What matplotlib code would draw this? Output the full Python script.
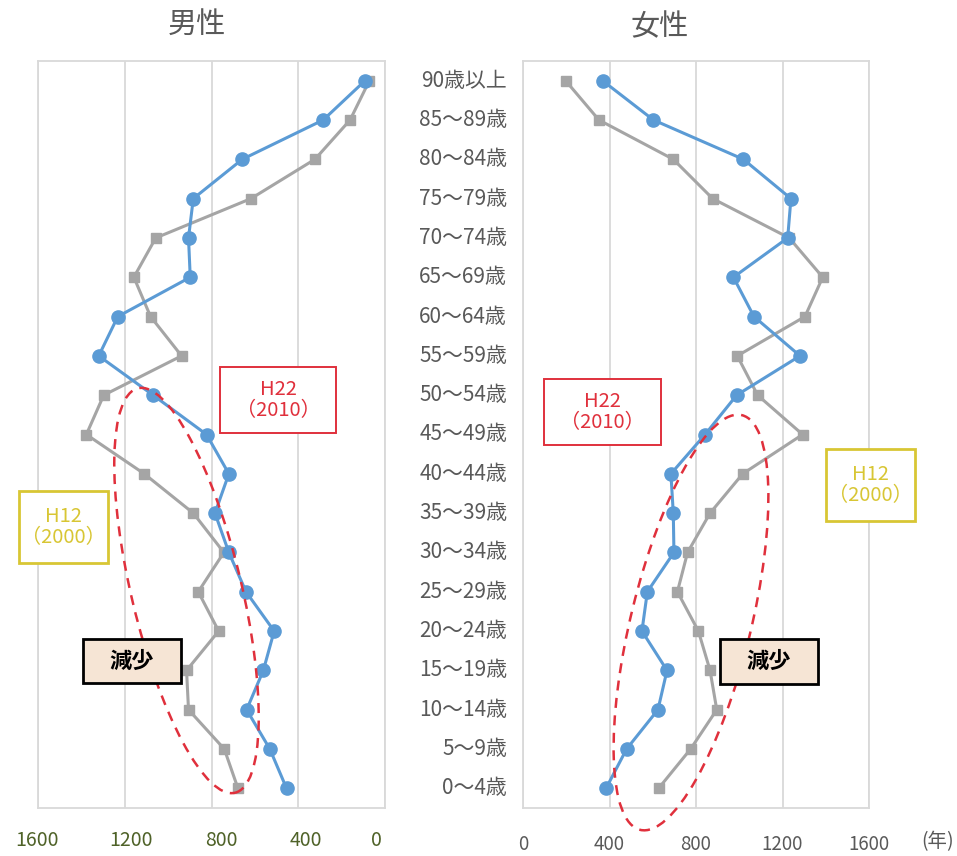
import matplotlib
matplotlib.use("Agg")
import matplotlib.pyplot as plt
import matplotlib.transforms as mtransforms
from matplotlib.patches import Ellipse, Rectangle

plt.rcParams['font.family'] = ['Noto Sans CJK JP', 'DejaVu Sans']

# Age groups, youngest first
age_labels = ["0～4歳", "5～9歳", "10～14歳", "15～19歳", "20～24歳", "25～29歳",
              "30～34歳", "35～39歳", "40～44歳", "45～49歳", "50～54歳", "55～59歳",
              "60～64歳", "65～69歳", "70～74歳", "75～79歳", "80～84歳", "85～89歳",
              "90歳以上"]

male_2010 = [454, 531, 638, 561, 511, 641, 720, 784, 720, 823, 1069, 1320,
             1232, 898, 906, 884, 658, 285, 92]
male_2000 = [678, 741, 906, 915, 767, 861, 743, 884, 1110, 1377, 1297, 938,
             1081, 1158, 1057, 618, 323, 161, 72]
female_2010 = [384, 479, 624, 666, 550, 575, 698, 695, 684, 842, 988, 1281,
               1068, 973, 1224, 1239, 1019, 603, 368]
female_2000 = [627, 775, 896, 865, 811, 714, 761, 865, 1016, 1293, 1085, 991,
               1304, 1386, 1231, 877, 695, 351, 197]

x_ticks = [0, 400, 800, 1200, 1600]

BLUE = "#5b9bd5"
GRAY = "#a5a5a5"
GRID = "#d9d9d9"
TEXT = "#595959"
RED = "#e0303c"
YELLOW = "#d8c634"

W, H = 957, 856
fig = plt.figure(figsize=(W / 100, H / 100), dpi=100)

pos = list(range(len(age_labels)))


def setup(ax, tick_color, pad, size):
    ax.set_xlim(0, 1600)
    ax.set_ylim(-0.5, len(age_labels) - 0.5)
    ax.set_xticks(x_ticks)
    ax.set_xticklabels([str(t) for t in x_ticks])
    ax.set_yticks([])
    ax.grid(axis="x", color=GRID, linewidth=1.3)
    ax.set_axisbelow(True)
    for s in ax.spines.values():
        s.set_color(GRID)
        s.set_linewidth(1.3)
    ax.tick_params(axis="x", length=0, pad=pad, labelsize=size, labelcolor=tick_color)


def draw_series(ax, v2010, v2000):
    ax.plot(v2000, pos, color=GRAY, lw=2.2, marker="s", ms=7.5, zorder=3)
    ax.plot(v2010, pos, color=BLUE, lw=2.2, marker="o", ms=9.5, zorder=4)


ax_m = fig.add_axes([38 / W, 1 - 808 / H, 347 / W, 747 / H])
setup(ax_m, "#4f6228", 16, 14)
ax_m.invert_xaxis()
draw_series(ax_m, male_2010, male_2000)

# the male axis labels sit slightly off their gridlines
label_shift_px = {0: -9, 400: 8, 800: 10, 1200: 6, 1600: -1}
for t, lab in zip(x_ticks, ax_m.get_xticklabels()):
    lab.set_transform(lab.get_transform() +
                      mtransforms.ScaledTranslation(label_shift_px[t] / 100, 0,
                                                    fig.dpi_scale_trans))

ax_f = fig.add_axes([523 / W, 1 - 808 / H, 346 / W, 747 / H])
setup(ax_f, TEXT, 19, 13.5)
draw_series(ax_f, female_2010, female_2000)

# Age labels in the centre column
for i, lab in enumerate(age_labels):
    y = ax_f.transData.transform((0, i))[1] / H
    fig.text(507 / W, y, lab, ha="right", va="center", fontsize=15, color=TEXT)

fig.text(197 / W, 1 - 25 / H, "男性", ha="center", va="center", fontsize=21, color=TEXT)
fig.text(660 / W, 1 - 27 / H, "女性", ha="center", va="center", fontsize=21, color=TEXT)
fig.text(954 / W, 1 - 842 / H, "(年)", ha="right", va="center", fontsize=14, color=TEXT)

# Annotation layer in pixel units (y measured upward)
ov = fig.add_axes([0, 0, 1, 1], zorder=10)
ov.set_xlim(0, W)
ov.set_ylim(0, H)
ov.axis("off")
ov.patch.set_alpha(0)


def box(x0, y0, x1, y1, text, edge, fc="white", tcolor=None, lw=1.5, fs=13, bold=False):
    ov.add_patch(Rectangle((x0, H - y1), x1 - x0, y1 - y0, facecolor=fc,
                           edgecolor=edge, linewidth=lw))
    ov.text((x0 + x1) / 2, H - (y0 + y1) / 2, text, ha="center", va="center",
            fontsize=fs, color=tcolor or edge, linespacing=1.0,
            fontweight="bold" if bold else "normal")


def oval(cx, cy, w, h, angle):
    ov.add_patch(Ellipse((cx, H - cy), w, h, angle=angle, fill=False,
                         edgecolor=RED, linewidth=1.8, linestyle=(0, (4, 3))))


oval(186.5, 590.5, 110, 416, 13.5)
oval(691, 622.5, 120, 427, -13.8)

box(220, 367, 336, 433, "H22\n（2010）", RED, lw=1.4, fs=14.5)
box(544, 379, 661, 445, "H22\n（2010）", RED, lw=1.4, fs=14.5)
box(19, 491, 108, 563, "H12\n（2000）", YELLOW, lw=2, fs=14.5)
box(826, 449, 915, 521, "H12\n（2000）", YELLOW, lw=2, fs=14.5)
box(83, 639, 181, 683, "減少", "black", fc="#f6e5d5", lw=2, fs=16, bold=True)
box(720, 639, 818, 684, "減少", "black", fc="#f6e5d5", lw=2, fs=16, bold=True)

fig.savefig("out.png", dpi=100)
